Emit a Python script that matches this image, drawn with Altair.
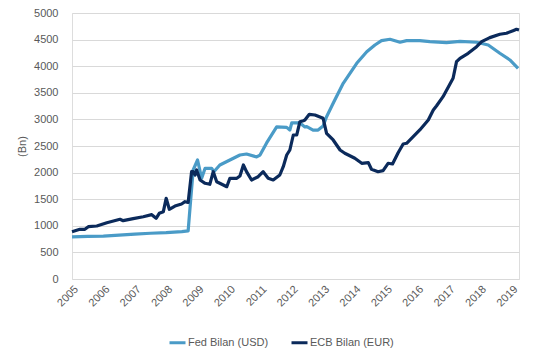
import altair as alt
import pandas as pd

series_names = ["Fed Bilan (USD)", "ECB Bilan (EUR)"]

fed_x = [2005.00, 2005.50, 2006.00, 2006.50, 2007.00, 2007.50, 2008.00, 2008.50, 2008.70,
         2008.78, 2008.86, 2009.00, 2009.13, 2009.24, 2009.45, 2009.52, 2009.71, 2010.03,
         2010.35, 2010.56, 2010.88, 2010.99, 2011.20, 2011.52, 2011.84, 2011.94, 2012.00,
         2012.26, 2012.42, 2012.48, 2012.68, 2012.84, 2013.00, 2013.11, 2013.32, 2013.64,
         2014.07, 2014.39, 2014.65, 2014.86, 2015.13, 2015.45, 2015.66, 2016.08, 2016.40,
         2016.93, 2017.36, 2017.89, 2018.26, 2018.63, 2018.95, 2019.21]
fed_y = [790, 800, 805, 825, 845, 860, 870, 890, 905,
         1485, 2049, 2237, 1893, 2080, 2080, 2017, 2143, 2237,
         2331, 2350, 2294, 2330, 2557, 2858, 2850, 2800, 2933,
         2933, 2858, 2863, 2800, 2800, 2876, 3051, 3303, 3679,
         4055, 4273, 4399, 4480, 4506, 4450, 4480, 4480, 4462,
         4443, 4468, 4450, 4399, 4243, 4117, 3961]

ecb_x = [2005.00, 2005.25, 2005.41, 2005.52, 2005.79, 2006.11, 2006.53, 2006.63, 2006.95,
         2007.27, 2007.54, 2007.68, 2007.78, 2007.91, 2008.00, 2008.10, 2008.28, 2008.49,
         2008.60, 2008.70, 2008.81, 2008.86, 2008.92, 2008.97, 2009.08, 2009.24, 2009.39,
         2009.50, 2009.61, 2009.82, 2009.93, 2010.03, 2010.25, 2010.35, 2010.46, 2010.56,
         2010.72, 2010.93, 2011.09, 2011.25, 2011.41, 2011.62, 2011.73, 2011.84, 2011.94,
         2012.05, 2012.16, 2012.26, 2012.37, 2012.42, 2012.56, 2012.74, 2013.00, 2013.11,
         2013.32, 2013.54, 2013.69, 2014.01, 2014.23, 2014.44, 2014.54, 2014.75, 2014.91,
         2015.07, 2015.21, 2015.39, 2015.55, 2015.66, 2015.87, 2016.08, 2016.35, 2016.51,
         2016.61, 2016.82, 2017.14, 2017.25, 2017.36, 2017.62, 2017.89, 2018.05, 2018.31,
         2018.63, 2018.84, 2019.05, 2019.16, 2019.24]
ecb_y = [889, 934, 934, 983, 996, 1058, 1122, 1096, 1134,
         1171, 1209, 1141, 1235, 1265, 1517, 1310, 1372, 1410,
         1453, 1440, 2017, 2017, 1955, 2049, 1861, 1799, 1780,
         2017, 1829, 1767, 1735, 1893, 1893, 1936, 2143, 2017,
         1861, 1923, 2017, 1893, 1861, 1955, 2111, 2331, 2425,
         2707, 2707, 2957, 2976, 2989, 3096, 3083, 3021, 2739,
         2613, 2425, 2363, 2269, 2175, 2187, 2062, 2017, 2036,
         2175, 2162, 2374, 2538, 2551, 2675, 2801, 2989, 3177,
         3252, 3427, 3773, 4085, 4149, 4243, 4367, 4462, 4537,
         4600, 4619, 4668, 4694, 4680]

year_ticks = list(range(2005, 2020))
value_ticks = list(range(0, 5001, 500))

df = pd.concat([
    pd.DataFrame({"t": fed_x, "v": fed_y, "s": series_names[0], "o": range(len(fed_x))}),
    pd.DataFrame({"t": ecb_x, "v": ecb_y, "s": series_names[1], "o": range(len(ecb_x))}),
])

FONT = "Liberation Sans"
GRAY = "#595959"

chart = alt.Chart(df).mark_line(strokeWidth=3.2, strokeJoin="round").encode(
    x=alt.X("t:Q", scale=alt.Scale(domain=[2005, 2019.24], nice=False, zero=False),
            axis=alt.Axis(values=year_ticks, format="d", labelAngle=-45, grid=False,
                          domain=False, ticks=False, labelPadding=4, title=None,
                          labelFont=FONT, labelFontSize=11, labelColor=GRAY)),
    y=alt.Y("v:Q", scale=alt.Scale(domain=[0, 5000], nice=False),
            axis=alt.Axis(values=value_ticks, format="d", grid=True, gridColor="#D9D9D9",
                          gridWidth=1, domain=False, ticks=False, labelPadding=14,
                          title="(Bn)", titleFont=FONT, titleFontSize=11, titleColor=GRAY,
                          titleFontWeight="normal", titlePadding=6,
                          labelFont=FONT, labelFontSize=11, labelColor=GRAY)),
    color=alt.Color("s:N", scale=alt.Scale(domain=series_names, range=["#4A9BC7", "#0B2A5B"]),
                    legend=alt.Legend(title=None, orient="none", direction="horizontal",
                                      legendX=96, legendY=320, symbolType="stroke",
                                      symbolSize=256, symbolStrokeWidth=3, labelOffset=1,
                                      columnPadding=16, labelFont=FONT, labelFontSize=11,
                                      labelColor=GRAY)),
    order="o:Q",
).properties(
    width=447, height=266,
    autosize=alt.AutoSizeParams(type="none"),
    padding={"left": 72, "top": 13, "right": 23, "bottom": 73},
).configure_view(stroke=None).configure(background="white")

chart.save("out.html", embed_options={"renderer": "svg", "actions": False})
